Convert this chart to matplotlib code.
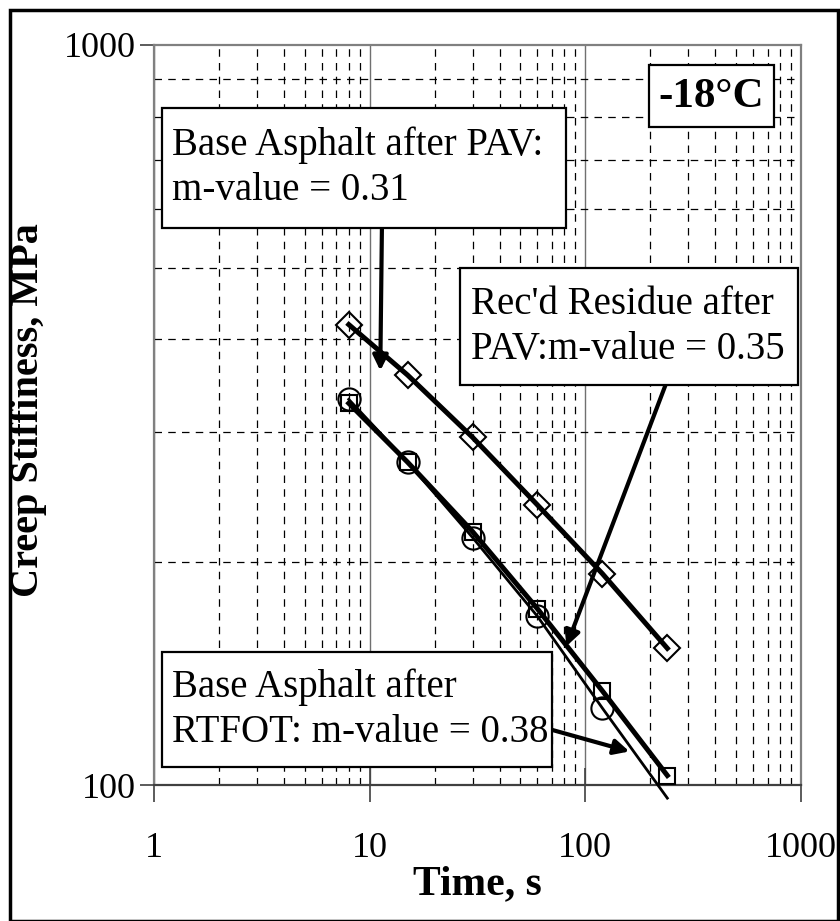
import numpy as np
import matplotlib
matplotlib.use('Agg')
from matplotlib import pyplot as plt
from matplotlib.patches import Rectangle
from matplotlib.ticker import LogLocator, NullFormatter, FixedLocator

plt.rcParams['font.family'] = ['Liberation Serif', 'DejaVu Serif']

# data
waktu = [8, 15, 30, 60, 120, 240]
base_pav = [419, 358, 295, 239, 193, 153]        # diamond
recd_pav = [328, 273, 220, 173, 134, 103]        # square
base_rtfot = [332, 273, 216, 169, 127, 96]       # circle

x_ticks = [1, 10, 100, 1000]
x_labels = ['1', '10', '100', '1000']
y_ticks = [100, 1000]
y_labels = ['100', '1000']

W, H = 840, 921
fig = plt.figure(figsize=(W / 100, H / 100), dpi=100)

# posisi area plot dalam piksel
L, R, T, B = 154, 801, 45, 785
ax = fig.add_axes([L / W, 1 - B / H, (R - L) / W, (B - T) / H])
ax.set_xscale('log')
ax.set_yscale('log')
ax.set_xlim(1, 1000)
ax.set_ylim(100, 1000)

# grid
ax.xaxis.set_minor_locator(LogLocator(base=10, subs=np.arange(2, 10)))
ax.yaxis.set_minor_locator(LogLocator(base=10, subs=np.arange(2, 10)))
ax.grid(which='minor', color='black', linestyle=(0, (6, 5)), linewidth=0.9)
ax.grid(which='major', axis='x', color='#707070', linestyle='-', linewidth=1.0)
ax.xaxis.set_minor_formatter(NullFormatter())
ax.yaxis.set_minor_formatter(NullFormatter())
ax.tick_params(which='minor', length=0)

ax.xaxis.set_major_locator(FixedLocator(x_ticks))
ax.set_xticklabels(x_labels)
ax.yaxis.set_major_locator(FixedLocator(y_ticks))
ax.set_yticklabels(y_labels)
ax.tick_params(which='major', axis='x', direction='inout', length=24, width=1.2,
               color='#404040', labelsize=26, pad=22)
ax.tick_params(which='major', axis='y', direction='out', length=10, width=1.2,
               color='#404040', labelsize=26, pad=3)

for s in ['top', 'right', 'left']:
    ax.spines[s].set_color('#808080')
    ax.spines[s].set_linewidth(1.6)
ax.spines['bottom'].set_color('#404040')
ax.spines['bottom'].set_linewidth(1.6)

# garis data
ax.plot(waktu, base_pav, color='black', lw=3.6, zorder=4)
ax.plot(waktu, base_pav, linestyle='none', marker='D', ms=13, mfc='none',
        mec='black', mew=1.5, zorder=5)
ax.plot(waktu, recd_pav, color='black', lw=3.6, zorder=4)
ax.plot(waktu, recd_pav, linestyle='none', marker='s', ms=12, mfc='none',
        mec='black', mew=1.5, zorder=5)
ax.plot(waktu, base_rtfot, color='black', lw=2.0, zorder=4, clip_on=False)
ax.plot(waktu, base_rtfot, linestyle='none', marker='o', ms=16, mfc='none',
        mec='black', mew=1.5, zorder=5)

ax.set_xlabel('Time, s', fontsize=30, fontweight='bold', labelpad=0)
ax.set_ylabel('Creep Stiffiness, MPa', fontsize=29, fontweight='bold')
ax.yaxis.set_label_coords(-0.165, (B - 410) / (B - T))


def kotak(x0, y0, x1, y1):
    r = Rectangle((x0, y0), x1 - x0, y1 - y0, transform=ax.transAxes,
                  facecolor='white', edgecolor='black', lw=1.6, zorder=7,
                  clip_on=False)
    ax.add_patch(r)


def px(x, y):
    return ((x - L) / (R - L), (B - y) / (B - T))


# kotak suhu
kotak(*px(649, 127), *px(774, 65))
ax.text(*px(711, 97), '-18°C', transform=ax.transAxes, fontsize=31,
        fontweight='bold', ha='center', va='center', zorder=8)

# anotasi
kotak(*px(162, 228), *px(566, 108))
ax.text(*px(172, 168), 'Base Asphalt after PAV:\nm-value = 0.31',
        transform=ax.transAxes, fontsize=28, ha='left', va='center',
        linespacing=1.3, zorder=8)

kotak(*px(460, 385), *px(798, 268))
ax.text(*px(471, 327), "Rec'd Residue after\nPAV:m-value = 0.35",
        transform=ax.transAxes, fontsize=28, ha='left', va='center',
        linespacing=1.3, zorder=8)

kotak(*px(162, 767), *px(552, 652))
ax.text(*px(172, 710), 'Base Asphalt after\nRTFOT: m-value = 0.38',
        transform=ax.transAxes, fontsize=28, ha='left', va='center',
        linespacing=1.3, zorder=8)

panah = dict(arrowstyle='-|>,head_length=0.9,head_width=0.45', color='black',
             lw=3, shrinkA=0, shrinkB=0)
ax.annotate('', xy=(11.2, 363), xytext=(11.4, 570), arrowprops=panah, zorder=6)
ax.annotate('', xy=(81.7, 154), xytext=(237, 349), arrowprops=panah, zorder=6)
ax.annotate('', xy=(160, 111), xytext=(68, 119), arrowprops=panah, zorder=6)

# bingkai luar
fig.patches.append(Rectangle((10 / W, 0), 1 - 12 / W, 1 - 10 / H,
                             transform=fig.transFigure, fill=False,
                             edgecolor='black', lw=2.5))

fig.savefig('out.png', dpi=100)
